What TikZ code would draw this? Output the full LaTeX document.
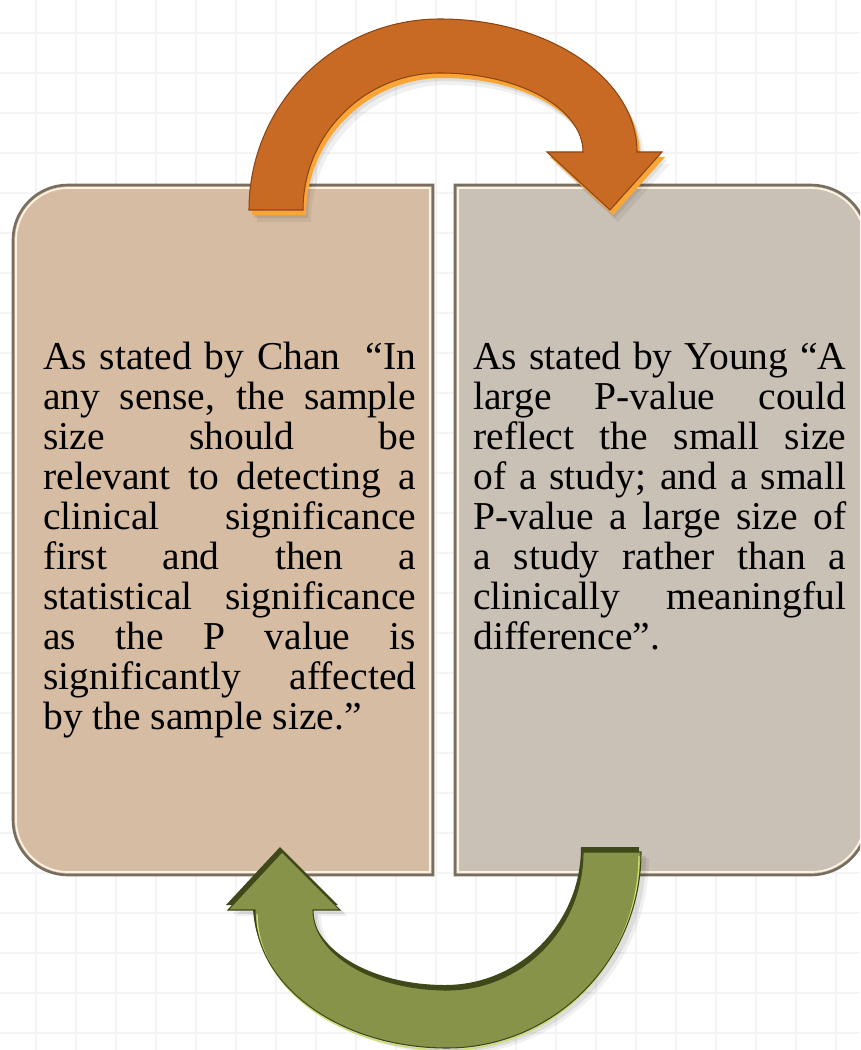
\documentclass[tikz,border=0pt]{standalone}
\usepackage{fontspec}
\setmainfont{Liberation Serif}

\definecolor{chanfill}{RGB}{214,188,162}
\definecolor{youngfill}{RGB}{201,192,182}
\definecolor{boxline}{RGB}{120,110,95}
\definecolor{boxlight}{RGB}{252,243,226}
\definecolor{gridline}{RGB}{244,244,244}
\definecolor{orangeface}{RGB}{201,106,36}
\definecolor{orangelight}{RGB}{250,166,54}
\definecolor{orangedark}{RGB}{140,70,20}
\definecolor{greenface}{RGB}{136,147,74}
\definecolor{greenlight}{RGB}{205,220,110}
\definecolor{greendark}{RGB}{62,72,24}

% one justified line, and the last line of a block
\newcommand{\jline}[1]{\hbox to 7.46cm{#1}}
\newcommand{\lastline}[1]{\hbox to 7.46cm{#1\hfil}}

\begin{document}
\begin{tikzpicture}[x=0.02cm, y=-0.02cm,
  font=\fontsize{22.5}{22.76}\selectfont,
  quote/.style={inner sep=0pt, anchor=base west}]
\useasboundingbox (0,0) rectangle (860,1050);
\clip (0,0) rectangle (860,1050);

% background grid
\fill[white] (0,0) rectangle (860,1050);
\foreach \i in {0,...,21} \draw[gridline, line width=1.2pt] (36+40*\i,0) -- (36+40*\i,1050);
\foreach \j in {0,...,25} \draw[gridline, line width=1.2pt] (0,33+40*\j) -- (860,33+40*\j);

% left box
\filldraw[fill=chanfill, draw=boxline, line width=1.5pt] (433,185) -- (68,185) arc[start angle=270, end angle=180, radius=55] -- (13,820) arc[start angle=180, end angle=90, radius=55] -- (433,875) -- cycle;
\draw[boxlight, line width=1pt] (430,188) -- (68,188) arc[start angle=270, end angle=180, radius=52] -- (16,820) arc[start angle=180, end angle=90, radius=52] -- (430,872) -- cycle;

% right box
\filldraw[fill=youngfill, draw=boxline, line width=1.5pt] (455,185) -- (811,185) arc[start angle=270, end angle=360, radius=57] -- (868,818) arc[start angle=0, end angle=90, radius=57] -- (455,875) -- cycle;
\draw[boxlight, line width=1pt] (458,188) -- (811,188) arc[start angle=270, end angle=360, radius=54] -- (865,818) arc[start angle=0, end angle=90, radius=54] -- (458,872) -- cycle;

\node[quote] (chan) at (43,370) {\vtop{
  \jline{As stated by Chan\ \ “In}
  \jline{any sense, the sample}
  \jline{size should be}
  \jline{relevant to detecting a}
  \jline{clinical significance}
  \jline{first and then a}
  \jline{statistical significance}
  \jline{as the P value is}
  \jline{significantly affected}
  \lastline{by the sample size.”}}};
\node[quote] (young) at (473,370) {\vtop{
  \jline{As stated by Young “A}
  \jline{large P-value could}
  \jline{reflect the small size}
  \jline{of a study; and a small}
  \jline{P-value a large size of}
  \jline{a study rather than a}
  \jline{clinically meaningful}
  \lastline{difference”.}}};

% top arrow
\foreach \dx/\dy/\col/\op in {8/12/black/0.06, 5/8/black/0.08, 3/5/orangelight/1, 0/0/orangeface/1}
  \fill[\col, opacity=\op, shift={(\dx,\dy)}] (249,210) arc[start angle=180, end angle=270, radius=191] arc[start angle=270, end angle=360, x radius=197, y radius=133] -- (662,152) -- (610,210) -- (547,152) -- (583,152) arc[start angle=360, end angle=270, x radius=143, y radius=79] arc[start angle=270, end angle=180, radius=137] -- cycle;
\draw[orangedark, line width=0.6pt] (249,210) arc[start angle=180, end angle=270, radius=191] arc[start angle=270, end angle=360, x radius=197, y radius=133] -- (662,152) -- (610,210) -- (547,152) -- (583,152) arc[start angle=360, end angle=270, x radius=143, y radius=79] arc[start angle=270, end angle=180, radius=137] -- cycle;

% bottom arrow
\foreach \dx/\dy/\col/\op in {8/6/black/0.06, 5/4/black/0.08, -2/-5/greendark/1, 0/0/greenface/1}
  \fill[\col, opacity=\op, shift={(\dx,\dy)}] (641,852) arc[start angle=0, end angle=90, x radius=194, y radius=196] arc[start angle=90, end angle=180, x radius=192, y radius=138] -- (228,910) -- (282,852) -- (340,910) -- (313,910) arc[start angle=180, end angle=90, x radius=134, y radius=80] arc[start angle=90, end angle=0, x radius=136, y radius=138] -- cycle;
\draw[greenlight, line width=0.8pt] (639,856) arc[start angle=0, end angle=90, x radius=192, y radius=194] arc[start angle=90, end angle=180, x radius=190, y radius=136];
\draw[greendark, line width=0.6pt] (641,852) arc[start angle=0, end angle=90, x radius=194, y radius=196] arc[start angle=90, end angle=180, x radius=192, y radius=138] -- (228,910) -- (282,852) -- (340,910) -- (313,910) arc[start angle=180, end angle=90, x radius=134, y radius=80] arc[start angle=90, end angle=0, x radius=136, y radius=138] -- cycle;
\end{tikzpicture}
\end{document}
